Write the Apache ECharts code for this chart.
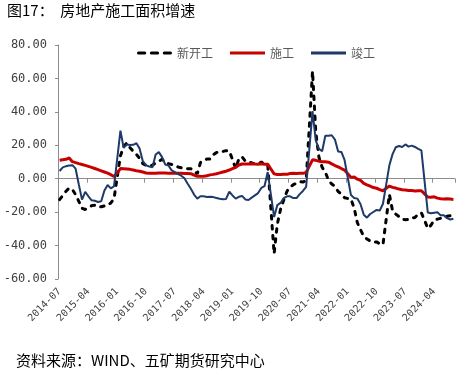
<!DOCTYPE html>
<html><head><meta charset="utf-8">
<script src="https://cdn.jsdelivr.net/npm/echarts@6/dist/echarts.min.js"></script>
<style>html,body{margin:0;padding:0;background:#fff}#c{width:466px;height:371px}</style>
</head><body><div id="c"></div>
<script>
const categories = [
'2014-07','2014-08','2014-09','2014-10','2014-11','2014-12',
'2015-01','2015-02','2015-03','2015-04','2015-05','2015-06','2015-07','2015-08','2015-09','2015-10','2015-11','2015-12',
'2016-01','2016-02','2016-03','2016-04','2016-05','2016-06','2016-07','2016-08','2016-09','2016-10','2016-11','2016-12',
'2017-01','2017-02','2017-03','2017-04','2017-05','2017-06','2017-07','2017-08','2017-09','2017-10','2017-11','2017-12',
'2018-01','2018-02','2018-03','2018-04','2018-05','2018-06','2018-07','2018-08','2018-09','2018-10','2018-11','2018-12',
'2019-01','2019-02','2019-03','2019-04','2019-05','2019-06','2019-07','2019-08','2019-09','2019-10','2019-11','2019-12',
'2020-01','2020-02','2020-03','2020-04','2020-05','2020-06','2020-07','2020-08','2020-09','2020-10','2020-11','2020-12',
'2021-01','2021-02','2021-03','2021-04','2021-05','2021-06','2021-07','2021-08','2021-09','2021-10','2021-11','2021-12',
'2022-01','2022-02','2022-03','2022-04','2022-05','2022-06','2022-07','2022-08','2022-09','2022-10','2022-11','2022-12',
'2023-01','2023-02','2023-03','2023-04','2023-05','2023-06','2023-07','2023-08','2023-09','2023-10','2023-11','2023-12',
'2024-01','2024-02','2024-03','2024-04','2024-05','2024-06','2024-07','2024-08','2024-09','2024-10'
];
const newStarts = [
-12.5,-10,-7.5,-5.6,-6.5,-9.5,
-13.5,-17.7,-18.4,-17.3,-16.1,-15.8,-16.8,-16.8,-16.3,-16.0,-14.5,-12.0,
1.0,13.7,19.2,21.4,18.5,16.5,14.5,12.2,9.0,8.0,7.6,8.1,
9.5,10.4,11.6,9.9,9.0,8.5,7.9,7.0,6.6,6.2,6.0,6.0,
4.5,2.9,9.7,10.6,11.8,11.8,14.4,15.6,16.4,16.3,16.8,16.5,
11.5,6.0,11.9,13.1,10.5,10.1,9.5,8.9,8.6,10.0,8.6,8.5,
-18.0,-44.9,-27.2,-18.4,-12.8,-7.6,-4.9,-3.6,-2.7,-1.8,-2.0,-1.2,
31.0,64.3,28.2,12.8,6.9,3.8,-0.9,-3.2,-4.5,-7.7,-9.1,-11.4,
-11.8,-12.2,-17.5,-26.3,-30.6,-34.4,-36.1,-37.2,-38.0,-37.8,-38.9,-39.4,
-24.4,-9.4,-19.2,-21.2,-22.6,-24.3,-24.5,-24.4,-23.4,-23.2,-21.2,-20.4,
-25.0,-29.7,-27.8,-24.6,-24.2,-23.7,-23.2,-22.5,-22.2,-22.6
];
const underConstruction = [
11.0,11.3,11.6,12.4,10.2,9.6,
9.0,8.5,8.0,7.4,6.8,6.1,5.4,4.7,4.0,3.3,2.4,1.3,
3.5,6.1,6.0,5.8,5.6,5.2,4.8,4.5,4.0,3.4,3.3,3.2,
3.3,3.4,3.4,3.4,3.3,3.3,3.3,3.3,3.2,3.1,3.1,3.0,
2.2,1.4,1.4,1.5,1.8,2.3,2.6,3.0,3.5,4.0,4.5,5.2,
6.0,6.8,8.2,8.8,8.8,8.8,9.0,8.8,8.7,9.0,8.7,8.7,
5.8,2.9,2.5,2.5,2.6,2.6,3.1,3.3,3.1,3.2,3.2,3.7,
7.5,11.3,11.0,10.5,10.1,10.2,9.9,8.9,7.9,7.1,6.1,5.2,
3.0,0.8,1.0,-0.3,-1.0,-2.8,-3.7,-4.5,-5.3,-5.7,-6.5,-7.2,
-5.8,-4.4,-5.2,-5.6,-6.2,-6.6,-6.8,-7.1,-7.1,-7.3,-7.2,-7.2,
-9.1,-11.0,-11.1,-10.8,-11.6,-12.0,-12.1,-12.0,-12.2,-12.4
];
const completed = [
4.6,6.8,7.5,7.9,8.1,6.0,
-3.5,-12.5,-7.9,-10.5,-12.9,-13.2,-13.9,-13.5,-7.0,-3.8,-5.8,-4.5,
12.0,28.8,18.5,20.4,20.2,20.3,21.2,18.0,10.5,8.0,7.3,6.9,
14.5,15.9,12.9,8.5,7.9,5.0,4.0,2.8,1.8,0.3,-3.0,-6.0,
-9.5,-11.9,-10.5,-10.5,-10.9,-10.8,-11.0,-11.5,-12.0,-12.3,-12.1,-7.8,
-10.0,-11.9,-10.8,-10.3,-12.4,-12.7,-11.3,-10.0,-8.6,-5.5,-4.5,4.0,
-9.5,-22.9,-15.8,-14.5,-11.6,-10.5,-10.5,-11.6,-11.6,-9.2,-7.3,-4.9,
17.5,40.4,22.9,17.9,16.4,25.7,25.7,26.0,23.4,16.3,16.0,11.2,
0.7,-9.8,-11.5,-11.9,-15.3,-21.5,-23.3,-21.1,-19.9,-18.7,-19.0,-15.0,
-3.5,8.0,14.7,18.8,19.6,19.0,20.5,19.2,19.8,19.0,17.9,17.0,
-1.6,-20.2,-20.7,-20.4,-20.1,-21.8,-21.8,-23.6,-24.4,-23.9
];
const seriesNames = ['新开工','施工','竣工'];
const titleText = '图17：  房地产施工面积增速';
const sourceText = '资料来源：WIND、五矿期货研究中心';

const chart = echarts.init(document.getElementById('c'), null, {renderer:'canvas'});
const axisGray = '#8c8c8c';
const cjk = 'Noto Sans CJK SC';
const mono = 'DejaVu Sans Mono';
const dashIcon = 'path://M1.5,0h6a1.5,1.5 0 0 1 0,3h-6a1.5,1.5 0 0 1 0,-3z M14,0h6a1.5,1.5 0 0 1 0,3h-6a1.5,1.5 0 0 1 0,-3z M26.5,0h6a1.5,1.5 0 0 1 0,3h-6a1.5,1.5 0 0 1 0,-3z';
const solidIcon = 'path://M0,0h35v3h-35z';
chart.setOption({
  animation:false,
  backgroundColor:'#fff',
  title:[
    {text:titleText,left:7,top:3,padding:0,textStyle:{fontFamily:cjk,fontSize:15,fontWeight:'normal',color:'#000'}},
    {text:sourceText,left:16,top:353,padding:0,textStyle:{fontFamily:cjk,fontSize:15,fontWeight:'normal',color:'#000'}}
  ],
  legend:{left:137,top:47,padding:0,itemWidth:35,itemHeight:3,itemGap:17,symbolKeepAspect:false,
    textStyle:{fontFamily:cjk,fontSize:12,color:'#595959'},
    data:[{name:seriesNames[0],icon:dashIcon},{name:seriesNames[1],icon:solidIcon},{name:seriesNames[2],icon:solidIcon}]},
  grid:{left:58,right:11,top:45,bottom:92},
  xAxis:[
    {type:'category',data:categories,boundaryGap:true,position:'top',
     axisLine:{onZero:true,lineStyle:{color:axisGray,width:1}},
     axisTick:{show:true,inside:true,interval:8,length:4,lineStyle:{color:axisGray}},
     axisLabel:{show:false},splitLine:{show:false}},
    {type:'category',data:categories,boundaryGap:true,position:'bottom',
     axisLine:{show:false,onZero:false},axisTick:{show:false},splitLine:{show:false},
     axisLabel:{interval:8,rotate:45,margin:11,fontFamily:mono,fontSize:10,color:'#404040'}}
  ],
  yAxis:{type:'value',min:-60,max:80,interval:20,
    axisLine:{show:true,lineStyle:{color:axisGray}},
    axisTick:{show:true,length:3,lineStyle:{color:axisGray}},
    splitLine:{show:false},
    axisLabel:{margin:11,formatter:v=>v.toFixed(2),fontFamily:mono,fontSize:12,color:'#404040'}},
  series:[
    {name:seriesNames[0],type:'line',data:newStarts,symbol:'none',showSymbol:false,
     lineStyle:{color:'#000',width:3,type:[3.5,6.5],cap:'round'},itemStyle:{color:'#000'}},
    {name:seriesNames[1],type:'line',data:underConstruction,symbol:'none',showSymbol:false,
     lineStyle:{color:'#C80000',width:3},itemStyle:{color:'#C80000'}},
    {name:seriesNames[2],type:'line',data:completed,symbol:'none',showSymbol:false,
     lineStyle:{color:'#1F3A68',width:2},itemStyle:{color:'#1F3A68'}}
  ]
});
</script></body></html>
